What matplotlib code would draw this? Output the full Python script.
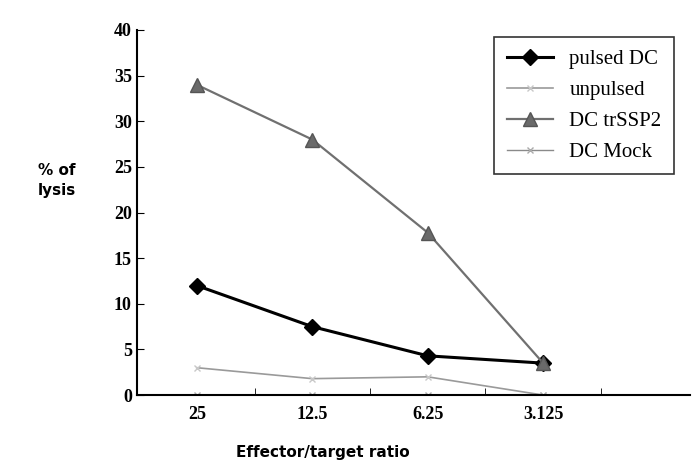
import numpy as np
import matplotlib.pyplot as plt

ratios = ["25", "12.5", "6.25", "3.125"]
pulsed_dc = [12, 7.5, 4.3, 3.5]
unpulsed = [3, 1.8, 2, 0]
dc_trssp2 = [34, 28, 17.8, 3.5]
dc_mock = [0, 0, 0, 0]

fig = plt.figure(figsize=(6.94, 4.76), dpi=100)
ax = fig.add_axes([0.197, 0.170, 0.797, 0.767])
x = np.arange(len(ratios))

ax.plot(x, pulsed_dc, color="black", lw=2.2, marker="D", ms=8, label="pulsed DC")
ax.plot(x, unpulsed, color="#9a9a9a", lw=1.2, marker="x", ms=5, mec="#c8c8c8", label="unpulsed")
ax.plot(x, dc_trssp2, color="#707070", lw=1.6, marker="^", ms=10, mfc="#6a6a6a", mec="#555555", label="DC trSSP2")
ax.plot(x, dc_mock, color="#8a8a8a", lw=1.0, marker="x", ms=5, mec="#aaaaaa", label="DC Mock")

ax.set_xlim(-0.52, 4.27)
ax.set_ylim(0, 40)
ax.set_yticks(range(0, 41, 5))
ax.set_xticks(x)
ax.set_xticklabels(ratios)
ax.set_xticks([0.5, 1.5, 2.5, 3.5], minor=True)
ax.tick_params(axis="x", which="major", length=0, pad=8)
ax.tick_params(axis="x", which="minor", length=5, direction="in")
ax.tick_params(axis="y", length=5, direction="in")
for lab in ax.get_xticklabels() + ax.get_yticklabels():
    lab.set_fontfamily("Liberation Serif")
    lab.set_fontweight("bold")
    lab.set_fontsize(13)
for s in ["top", "right"]:
    ax.spines[s].set_visible(False)
ax.spines["left"].set_linewidth(1.5)
ax.spines["bottom"].set_linewidth(1.5)

fig.text(0.34, 0.04, "Effector/target ratio", fontsize=11, fontweight="bold",
         family="DejaVu Sans")
fig.text(0.055, 0.62, "% of\nlysis", fontsize=11, fontweight="bold",
         family="DejaVu Sans", va="center", linespacing=1.4)

leg = ax.legend(loc="upper right", bbox_to_anchor=(0.99, 1.01),
                prop={"family": "Liberation Serif", "size": 15},
                frameon=True, fancybox=False, edgecolor="black",
                handlelength=2.2, borderpad=0.6, labelspacing=0.55)
leg.get_frame().set_linewidth(1.2)

fig.savefig("out.png", dpi=100)
